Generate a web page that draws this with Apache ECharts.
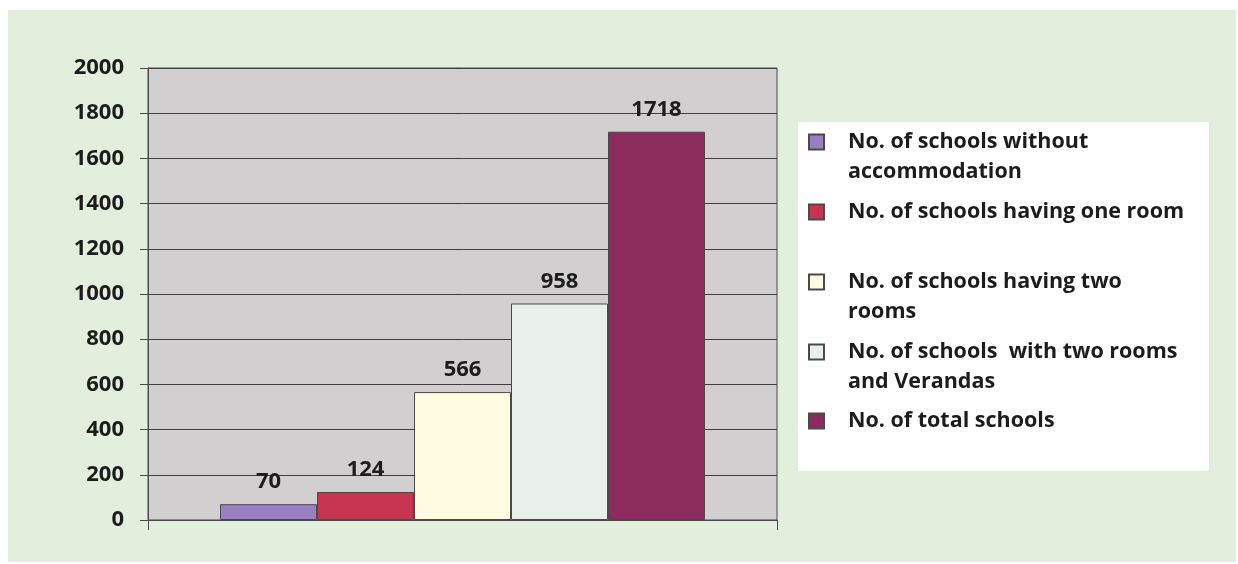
<!DOCTYPE html>
<html>
<head>
<meta charset="utf-8">
<title>School accommodation</title>
<script src="https://cdn.jsdelivr.net/npm/echarts@6/dist/echarts.min.js"></script>
<style>
  html, body { margin: 0; padding: 0; background: #ffffff; }
  #chart { width: 1238px; height: 564px; }
</style>
</head>
<body>
<div id="chart"></div>
<script>
// Values drawn by the chart
const categories = [''];
const seriesNames = [
  'No. of schools without accommodation',
  'No. of schools having one room',
  'No. of schools having two rooms',
  'No. of schools  with two rooms and Verandas',
  'No. of total schools'
];
// Legend text, broken into lines as shown in the key
const legendLines = [
  ['No. of schools without', 'accommodation'],
  ['No. of schools having one room'],
  ['No. of schools having two', 'rooms'],
  ['No. of schools  with two rooms', 'and Verandas'],
  ['No. of total schools']
];
const seriesValues = [70, 124, 566, 958, 1718];
const yTicks = { min: 0, max: 2000, interval: 200 };

const colors = ['#9a80c2', '#c7344f', '#fffbe0', '#e9efeb', '#8b2c5d'];
const FONT = 'Open Sans';
const FONT_SIZE = 22;
const LINE_H = 30;

const chart = echarts.init(document.getElementById('chart'));

const series = seriesNames.map((name, i) => ({
  name: name,
  type: 'bar',
  data: [seriesValues[i]],
  barWidth: 97,
  barGap: '0%',
  itemStyle: { color: colors[i], borderColor: '#4a4a4a', borderWidth: 1 },
  label: {
    show: true,
    position: 'top',
    distance: 11,
    fontFamily: FONT,
    fontWeight: 'bold',
    fontSize: FONT_SIZE,
    color: '#1c1c1c'
  }
}));

// one legend block per entry so each key sits at its own row;
// legend text is centred on the icon, so a two-line entry gets a blank
// leading line to keep its first line level with the icon
const iconCenters = [142, 212, 282, 352, 421];
const legends = seriesNames.map((name, i) => {
  const lines = legendLines[i];
  const two = lines.length > 1;
  return {
    data: [name],
    orient: 'vertical',
    left: 808,
    top: iconCenters[i] - (two ? LINE_H * 1.5 : LINE_H / 2),
    padding: 0,
    icon: 'rect',
    itemWidth: 15,
    itemHeight: 15,
    formatter: () => (two ? '\n' : '') + lines.join('\n'),
    textStyle: {
      fontFamily: FONT,
      fontWeight: 'bold',
      fontSize: FONT_SIZE - 0.5,
      lineHeight: LINE_H,
      color: '#1c1c1c',
      padding: [0, 0, 0, 19]
    }
  };
});

chart.setOption({
  animation: false,
  backgroundColor: '#ffffff',
  graphic: [
    {
      type: 'rect',
      shape: { x: 8, y: 10, width: 1228, height: 552 },
      style: { fill: '#e2efdc' },
      z: -10
    },
    {
      type: 'rect',
      shape: { x: 798, y: 122, width: 411, height: 349 },
      style: { fill: '#ffffff' },
      z: -5
    }
  ],
  grid: {
    left: 148,
    right: 461,
    top: 68,
    bottom: 44,
    show: true,
    backgroundColor: '#d1cfd0',
    borderColor: '#4a4a4a',
    borderWidth: 1
  },
  legend: legends,
  xAxis: {
    type: 'category',
    data: categories,
    axisLine: { show: true, lineStyle: { color: '#4a4a4a', width: 1 } },
    axisTick: { show: true, length: 10, lineStyle: { color: '#4a4a4a' } },
    axisLabel: { show: false },
    splitLine: { show: false }
  },
  yAxis: {
    type: 'value',
    min: yTicks.min,
    max: yTicks.max,
    interval: yTicks.interval,
    axisLine: { show: true, lineStyle: { color: '#4a4a4a', width: 1 } },
    axisTick: { show: true, length: 8, lineStyle: { color: '#4a4a4a' } },
    axisLabel: {
      margin: 24,
      formatter: (v) => String(v),
      fontFamily: FONT,
      fontWeight: 'bold',
      fontSize: FONT_SIZE,
      color: '#1c1c1c'
    },
    splitLine: { show: true, lineStyle: { color: '#3f3f3f', width: 1 } }
  },
  series: series
});
</script>
</body>
</html>
